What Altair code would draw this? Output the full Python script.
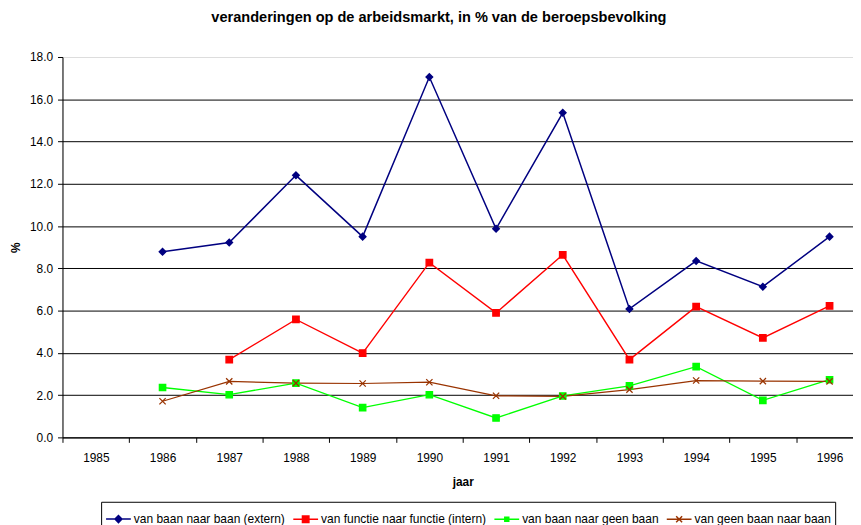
import altair as alt
import pandas as pd

years = ["1985", "1986", "1987", "1988", "1989", "1990", "1991", "1992", "1993", "1994", "1995", "1996"]
series_names = [
    "van baan naar baan (extern)",
    "van functie naar functie (intern)",
    "van baan naar geen baan",
    "van geen baan naar baan",
]
extern = [None, 8.78, 9.22, 12.40, 9.50, 17.05, 9.87, 15.36, 6.08, 8.35, 7.13, 9.50]
intern = [None, None, 3.68, 5.58, 3.99, 8.27, 5.89, 8.64, 3.68, 6.19, 4.71, 6.22]
naar_geen = [None, 2.36, 2.02, 2.57, 1.41, 2.02, 0.92, 1.96, 2.44, 3.35, 1.75, 2.73]
geen_naar = [None, 1.71, 2.65, 2.57, 2.55, 2.61, 1.97, 1.94, 2.26, 2.69, 2.66, 2.65]
y_ticks = [0, 2, 4, 6, 8, 10, 12, 14, 16, 18]

colors = ["#000080", "#FF0000", "#00FF00", "#993300"]

rows = []
for name, vals in zip(series_names, [extern, intern, naar_geen, geen_naar]):
    for yr, v in zip(years, vals):
        if v is not None:
            rows.append({"jaar": yr, "serie": name, "lg": name, "waarde": v})
df = pd.DataFrame(rows)

FONT = "Liberation Sans"

x_enc = alt.X(
    "jaar:O",
    scale=alt.Scale(type="band", domain=years, range=[0, 808], paddingInner=0, paddingOuter=0),
    axis=alt.Axis(
        title="jaar", titleFont=FONT, titleFontSize=12, titleFontWeight="bold", titleColor="black",
        titleBaseline="alphabetic", titleY=49,
        labelFont=FONT, labelFontSize=12, labelColor="black", labelAngle=0, labelPadding=10,
        tickBand="extent", tickSize=5, tickColor="black", domainColor="black", grid=False,
    ),
)
y_enc = alt.Y(
    "waarde:Q",
    scale=alt.Scale(domain=[0, 18], nice=False, zero=True),
    axis=alt.Axis(
        title="%", titleFont=FONT, titleFontSize=12, titleFontWeight="bold", titleColor="black",
        titleAngle=-90, titleBaseline="alphabetic", titleX=-43, titleY=192, titleAlign="center",
        values=y_ticks, format=".1f",
        labelFont=FONT, labelFontSize=12, labelColor="black", labelPadding=5,
        tickSize=5, tickColor="black", domainColor="black",
        grid=True,
        gridColor={"condition": {"test": "datum.value == 18", "value": "#dddddd"}, "value": "black"},
        gridWidth=1,
    ),
)

color_scale = alt.Scale(domain=series_names, range=colors)

lines = alt.Chart(df).mark_line().encode(
    x=x_enc,
    y=y_enc,
    color=alt.Color("serie:N", scale=color_scale, legend=None),
    strokeWidth=alt.StrokeWidth("serie:N", scale=alt.Scale(domain=series_names, range=[1.5, 1.25, 1.5, 1.5]), legend=None),
)

points = alt.Chart(df).mark_point(filled=True, opacity=1).encode(
    x=x_enc,
    y=y_enc,
    fill=alt.Fill("serie:N", scale=color_scale, legend=None),
    stroke=alt.Stroke("serie:N", scale=color_scale, legend=None),
    shape=alt.Shape("serie:N", scale=alt.Scale(domain=series_names,
                    range=["diamond", "square", "square", "M-1,-1L1,1M-1,1L1,-1"]), legend=None),
    size=alt.Size("serie:N", scale=alt.Scale(domain=series_names, range=[42, 40, 11, 36]), legend=None),
    strokeWidth=alt.StrokeWidth("serie:N", scale=alt.Scale(domain=series_names, range=[1, 0.5, 0.5, 1.5]), legend=None),
)

legend_paths = [
    "M-1,0L1,0M-0.28,0L0,-0.28L0.28,0L0,0.28Z",
    "M-1,0L1,0M-0.26,-0.26L0.26,-0.26L0.26,0.26L-0.26,0.26Z",
    "M-1,0L1,0M-0.16,-0.16L0.16,-0.16L0.16,0.16L-0.16,0.16Z",
    "M-1,0L1,0M-0.24,-0.24L0.24,0.24M-0.24,0.24L0.24,-0.24",
]

lg = alt.Legend(
    title=None, orient="none", legendX=39, legendY=449, direction="horizontal", columns=4,
    symbolSize=625, symbolStrokeWidth=1.5, symbolOpacity=1,
    labelFont=FONT, labelFontSize=12.1, labelColor="black", labelOffset=2, labelLimit=400,
    columnPadding=5, padding=4, strokeColor="black", fillColor="white",
)

legend_layer = alt.Chart(df).mark_point(filled=True, opacity=0).encode(
    x=x_enc,
    y=y_enc,
    fill=alt.Fill("lg:N", scale=alt.Scale(domain=series_names, range=colors), legend=lg),
    stroke=alt.Stroke("lg:N", scale=alt.Scale(domain=series_names, range=colors), legend=lg),
    shape=alt.Shape("lg:N", scale=alt.Scale(domain=series_names, range=legend_paths), legend=lg),
)

chart = alt.layer(lines, points, legend_layer).resolve_scale(
    fill="independent", stroke="independent", shape="independent"
).properties(
    width=798,
    height=384,
    title=alt.TitleParams(
        "veranderingen op de arbeidsmarkt, in % van de beroepsbevolking",
        font=FONT, fontSize=14.7, fontWeight="bold", color="black",
        anchor="middle", frame="group", dx=-19, offset=15, baseline="alphabetic",
    ),
    autosize=alt.AutoSizeParams(type="none"),
    padding={"left": 55, "top": 47, "right": 0, "bottom": 88},
).configure_view(stroke=None).configure(background="white")

chart.save("out.html", embed_options={"renderer": "svg", "actions": False})
